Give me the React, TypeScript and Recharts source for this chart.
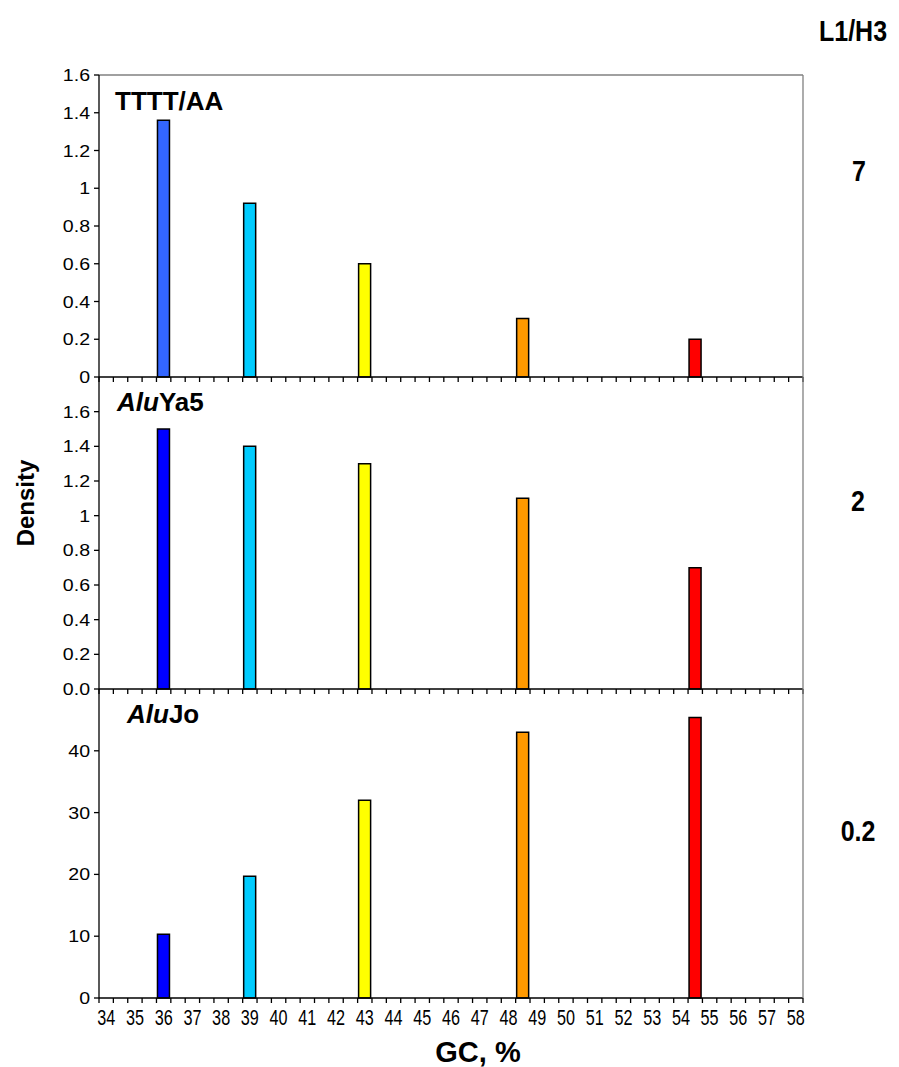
import { Bar, BarChart, Cell, ReferenceLine, XAxis, YAxis } from "recharts";

// GC bins on the category axis (every half percent)
const gcCategories = [
  34, 34.5, 35, 35.5, 36, 36.5, 37, 37.5, 38, 38.5, 39, 39.5, 40, 40.5, 41,
  41.5, 42, 42.5, 43, 43.5, 44, 44.5, 45, 45.5, 46, 46.5, 47, 47.5, 48, 48.5,
  49, 49.5, 50, 50.5, 51, 51.5, 52, 52.5, 53, 53.5, 54, 54.5, 55, 55.5, 56,
  56.5, 57, 57.5, 58,
];

// where the bars sit
const gcBins = [36, 39, 43, 48.5, 54.5];

const ttttValues = [1.36, 0.92, 0.6, 0.31, 0.2];
const aluYa5Values = [1.5, 1.4, 1.3, 1.1, 0.7];
const aluJoValues = [10.3, 19.7, 32, 43, 45.4];

const ttttColors = ["#3366FF", "#00CCFF", "#FFFF00", "#FF9900", "#FF0000"];
const aluColors = ["#0000FF", "#00CCFF", "#FFFF00", "#FF9900", "#FF0000"];

const ttttTicks = [0, 0.2, 0.4, 0.6, 0.8, 1, 1.2, 1.4, 1.6];
const aluYa5Ticks = [0, 0.2, 0.4, 0.6, 0.8, 1, 1.2, 1.4, 1.6];
const aluJoTicks = [0, 10, 20, 30, 40];

const FONT = "'Liberation Sans', Arial, Helvetica, sans-serif";
const PLOT_LEFT = 99;
const PLOT_RIGHT = 803;
const CHART_W = 899;
const BAND = (PLOT_RIGHT - PLOT_LEFT) / gcCategories.length;

function buildRows(values: number[], colors: string[]) {
  return gcCategories.map((gc) => {
    const i = gcBins.indexOf(gc);
    return {
      gc,
      value: i >= 0 ? values[i] : null,
      color: i >= 0 ? colors[i] : "none",
    };
  });
}

// tick marks at category boundaries, labels on whole numbers only
function GcTick(props: any) {
  const { x, y, payload, index, showLabels } = props;
  const left = x - BAND / 2;
  const isLast = index === gcCategories.length - 1;
  const v = payload.value as number;
  return (
    <g>
      <line x1={left} x2={left} y1={y} y2={y + 5} stroke="#000" strokeWidth={1.3} />
      {isLast && (
        <line x1={x + BAND / 2} x2={x + BAND / 2} y1={y} y2={y + 5} stroke="#000" strokeWidth={1.3} />
      )}
      {showLabels && v % 1 === 0 && (
        <text
          transform={`translate(${x},${y + 27}) scale(0.9,1.22)`}
          textAnchor="middle"
          fontSize={18}
          fontFamily={FONT}
          fill="#000"
        >
          {v}
        </text>
      )}
    </g>
  );
}

// y labels come out a bit wide in the original
function DensityTick(props: any) {
  const { x, y, payload, fmt } = props;
  return (
    <text
      transform={`translate(${x},${y}) scale(1.15,1)`}
      textAnchor="end"
      dominantBaseline="central"
      fontSize={17}
      fontFamily={FONT}
      fill="#000"
    >
      {fmt(payload.value)}
    </text>
  );
}

interface PanelProps {
  top: number;
  plotHeight: number;
  values: number[];
  colors: string[];
  domainMax: number;
  ticks: number[];
  fmt: (v: number) => string;
  showLabels?: boolean;
  topBorder?: boolean;
}

function Panel({
  top,
  plotHeight,
  values,
  colors,
  domainMax,
  ticks,
  fmt,
  showLabels = false,
  topBorder = false,
}: PanelProps) {
  const rows = buildRows(values, colors);
  const xAxisHeight = showLabels ? 40 : 12;
  const height = 10 + plotHeight + xAxisHeight;
  return (
    <div style={{ position: "absolute", left: 0, top: top - 10 }}>
      <BarChart
        width={CHART_W}
        height={height}
        data={rows}
        margin={{ top: 10, right: CHART_W - PLOT_RIGHT - 1, left: PLOT_LEFT - 50, bottom: 0 }}
        barCategoryGap={0}
      >
        <XAxis
          dataKey="gc"
          type="category"
          interval={0}
          height={xAxisHeight}
          tickSize={0}
          tickMargin={0}
          tickLine={false}
          axisLine={{ stroke: "#000", strokeWidth: 1.3 }}
          tick={(p: any) => <GcTick {...p} showLabels={showLabels} />}
        />
        <YAxis
          type="number"
          domain={[0, domainMax]}
          ticks={ticks}
          width={50}
          tickSize={5}
          tickMargin={4}
          axisLine={{ stroke: "#000", strokeWidth: 1.3 }}
          tickLine={{ stroke: "#000", strokeWidth: 1.3 }}
          tick={(p: any) => <DensityTick {...p} fmt={fmt} />}
        />
        <YAxis
          yAxisId="r"
          orientation="right"
          width={1}
          tick={false}
          tickLine={false}
          axisLine={{ stroke: "#808080", strokeWidth: 1.3 }}
        />
        {topBorder && (
          <ReferenceLine y={domainMax} stroke="#808080" strokeWidth={1.3} />
        )}
        <Bar
          dataKey="value"
          barSize={12}
          stroke="#000"
          strokeWidth={1.5}
          isAnimationActive={false}
        >
          {rows.map((r, i) => (
            <Cell key={i} fill={r.color} />
          ))}
        </Bar>
      </BarChart>
    </div>
  );
}

export default function App() {
  return (
    <div
      style={{
        position: "absolute",
        left: 0,
        top: 0,
        width: 899,
        height: 1067,
        background: "#fff",
        fontFamily: FONT,
      }}
    >
      <Panel
        top={75}
        plotHeight={302}
        values={ttttValues}
        colors={ttttColors}
        domainMax={1.6}
        ticks={ttttTicks}
        fmt={(v) => String(v)}
        topBorder
      />
      <Panel
        top={377}
        plotHeight={312}
        values={aluYa5Values}
        colors={aluColors}
        domainMax={1.8}
        ticks={aluYa5Ticks}
        fmt={(v) => (v === 0 ? "0.0" : String(v))}
      />
      <Panel
        top={689}
        plotHeight={309}
        values={aluJoValues}
        colors={aluColors}
        domainMax={50}
        ticks={aluJoTicks}
        fmt={(v) => String(v)}
        showLabels
      />

      <svg
        width={899}
        height={1067}
        style={{ position: "absolute", left: 0, top: 0, pointerEvents: "none" }}
        fontFamily={FONT}
        fontWeight="bold"
      >
        <text x={115} y={110} fontSize={26}>TTTT/AA</text>
        <text x={117} y={411} fontSize={26}>
          <tspan fontStyle="italic">Alu</tspan>Ya5
        </text>
        <text x={127} y={723} fontSize={26}>
          <tspan fontStyle="italic">Alu</tspan>Jo
        </text>

        <text transform="translate(853,41) scale(1,1.15)" fontSize={25} textAnchor="middle">L1/H3</text>
        <text transform="translate(859,181) scale(1,1.15)" fontSize={25} textAnchor="middle">7</text>
        <text transform="translate(858,511) scale(1,1.15)" fontSize={25} textAnchor="middle">2</text>
        <text transform="translate(858,841) scale(1,1.15)" fontSize={25} textAnchor="middle">0.2</text>

        <text
          x={25}
          y={503}
          fontSize={24}
          textAnchor="middle"
          dominantBaseline="central"
          transform="rotate(-90 25 503)"
        >
          Density
        </text>
        <text x={478} y={1062} fontSize={29} textAnchor="middle">GC, %</text>
      </svg>
    </div>
  );
}
